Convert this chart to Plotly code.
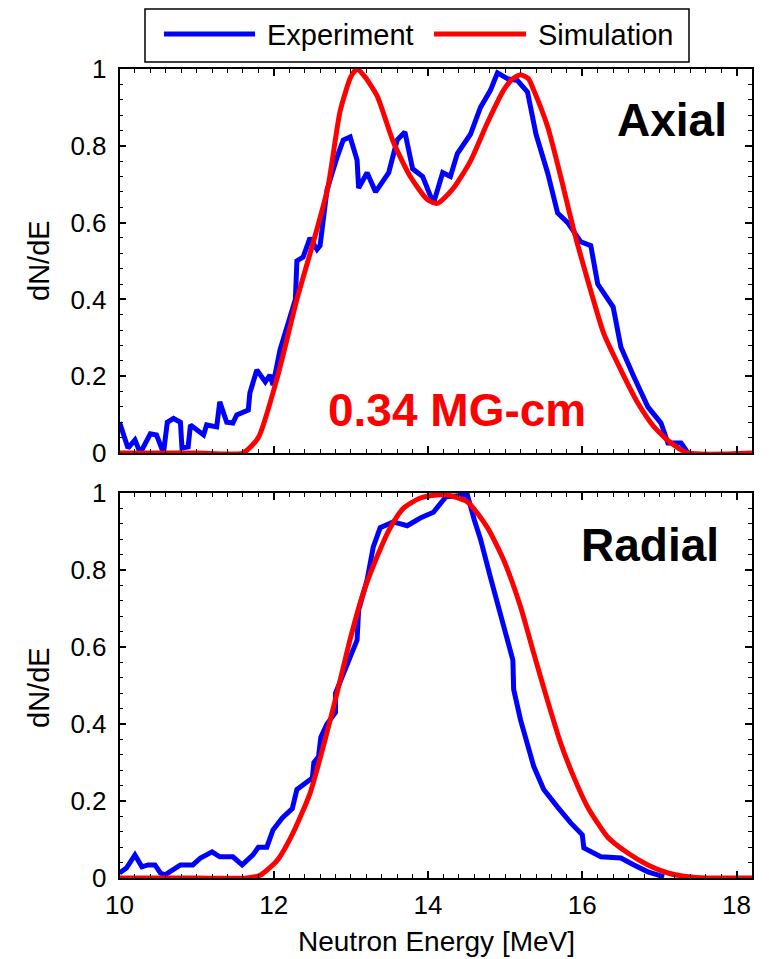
import plotly.graph_objects as go

# ---- data ----
axial_exp_E = [10.0, 10.11, 10.2, 10.27, 10.4, 10.48, 10.57, 10.62, 10.7, 10.79, 10.81, 10.89, 10.92,
               11.09, 11.13, 11.26, 11.3, 11.39, 11.47, 11.52, 11.67, 11.69, 11.78, 11.89, 11.95, 11.99,
               12.08, 12.17, 12.25, 12.28, 12.3, 12.38, 12.47, 12.56, 12.6, 12.69, 12.82, 12.9, 12.99,
               13.08, 13.1, 13.21, 13.32, 13.49, 13.6, 13.7, 13.8, 13.93, 14.07, 14.19, 14.29, 14.38,
               14.55, 14.68, 14.81, 14.9, 15.03, 15.16, 15.29, 15.4, 15.55, 15.68, 15.81, 15.98, 16.11,
               16.2, 16.4, 16.5, 16.67, 16.85, 17.02, 17.11, 17.28, 17.37]
axial_exp_N = [0.08, 0.013, 0.034, 0.0, 0.05, 0.047, 0.0, 0.08, 0.09, 0.08, 0.013, 0.016, 0.073,
               0.047, 0.073, 0.068, 0.133, 0.08, 0.078, 0.099, 0.112, 0.156, 0.216, 0.185, 0.203, 0.177,
               0.268, 0.328, 0.39, 0.40, 0.50, 0.51, 0.56, 0.53, 0.54, 0.685, 0.77, 0.815, 0.823,
               0.763, 0.69, 0.73, 0.68, 0.73, 0.815, 0.836, 0.74, 0.72, 0.65, 0.73, 0.72, 0.78,
               0.83, 0.90, 0.945, 0.99, 0.975, 0.97, 0.94, 0.83, 0.73, 0.625, 0.60, 0.55, 0.54,
               0.44, 0.38, 0.276, 0.198, 0.12, 0.078, 0.026, 0.026, 0.0]

axial_sim_E = [10.0, 11.0, 11.6, 11.8, 12.05, 12.3, 12.5, 12.7, 12.86, 13.0, 13.08, 13.18, 13.34, 13.55,
               13.77, 13.99, 14.12, 14.33, 14.55, 14.77, 14.98, 15.1, 15.2, 15.3, 15.37, 15.55, 15.72,
               15.89, 16.07, 16.28, 16.5, 16.72, 16.93, 17.15, 17.37, 18.2]
axial_sim_N = [0.0, 0.0, 0.0, 0.04, 0.2, 0.40, 0.54, 0.69, 0.89, 0.98, 1.0, 0.98, 0.93, 0.81,
               0.72, 0.66, 0.65, 0.69, 0.76, 0.86, 0.945, 0.975, 0.985, 0.975, 0.945, 0.85, 0.72,
               0.58, 0.45, 0.31, 0.216, 0.13, 0.068, 0.026, 0.0, 0.0]

radial_exp_E = [10.0, 10.09, 10.2, 10.29, 10.37, 10.46, 10.53, 10.59, 10.79, 10.95, 11.05, 11.2, 11.3,
                11.47, 11.59, 11.73, 11.8, 11.91, 11.99, 12.11, 12.24, 12.3, 12.5, 12.52, 12.58, 12.61,
                12.69, 12.8, 12.8, 12.9, 13.08, 13.1, 13.21, 13.29, 13.38, 13.55, 13.73, 13.9, 14.07,
                14.23, 14.51, 14.6, 14.68, 14.81, 14.94, 15.1, 15.11, 15.2, 15.37, 15.5, 15.68, 15.85,
                16.0, 16.02, 16.24, 16.5, 16.67, 16.85, 17.06]
radial_exp_N = [0.013, 0.026, 0.06, 0.029, 0.034, 0.034, 0.013, 0.008, 0.034, 0.034, 0.052, 0.068, 0.055,
                0.055, 0.034, 0.06, 0.08, 0.08, 0.125, 0.156, 0.18, 0.23, 0.26, 0.30, 0.315, 0.366,
                0.40, 0.43, 0.48, 0.532, 0.618, 0.696, 0.774, 0.86, 0.91, 0.925, 0.915, 0.935, 0.95,
                0.99, 0.995, 0.93, 0.88, 0.78, 0.68, 0.566, 0.49, 0.41, 0.29, 0.23, 0.184, 0.143,
                0.112, 0.078, 0.055, 0.052, 0.034, 0.016, 0.003]

radial_sim_E = [10.0, 11.0, 11.65, 11.83, 12.05, 12.25, 12.47, 12.64, 12.82, 12.99, 13.16, 13.34, 13.51,
                13.68, 13.9, 14.12, 14.25, 14.51, 14.77, 14.98, 15.2, 15.37, 15.55, 15.72, 15.89, 16.07,
                16.33, 16.59, 16.85, 17.11, 17.37, 17.6, 18.2]
radial_sim_N = [0.0, 0.0, 0.0, 0.008, 0.047, 0.117, 0.22, 0.34, 0.48, 0.62, 0.74, 0.835, 0.91,
                0.96, 0.987, 0.995, 0.995, 0.977, 0.91, 0.826, 0.704, 0.584, 0.46, 0.35, 0.262, 0.184,
                0.106, 0.065, 0.034, 0.013, 0.003, 0.0, 0.0]

x_ticks = [10, 12, 14, 16, 18]
y_ticks = [0, 0.2, 0.4, 0.6, 0.8, 1]
y_tick_text = ["0", "0.2", "0.4", "0.6", "0.8", "1"]

BLUE = "#0000ff"
RED = "#ff0000"
FONT = "Liberation Sans, Arial, sans-serif"
W, H = 769, 959
OFF = 8  # page body margin


def px_x(p):
    return (p - OFF) / W


def px_y(p):
    return 1 - (p - OFF) / H


fig = go.Figure()
fig.add_trace(go.Scatter(x=axial_exp_E, y=axial_exp_N, mode="lines", line=dict(color=BLUE, width=5),
                         xaxis="x", yaxis="y", name="Experiment"))
fig.add_trace(go.Scatter(x=axial_sim_E, y=axial_sim_N, mode="lines", line=dict(color=RED, width=5, shape="spline", smoothing=0.6),
                         xaxis="x", yaxis="y", name="Simulation"))
fig.add_trace(go.Scatter(x=radial_exp_E, y=radial_exp_N, mode="lines", line=dict(color=BLUE, width=5),
                         xaxis="x2", yaxis="y2", name="Experiment"))
fig.add_trace(go.Scatter(x=radial_sim_E, y=radial_sim_N, mode="lines", line=dict(color=RED, width=5, shape="spline", smoothing=0.6),
                         xaxis="x2", yaxis="y2", name="Simulation"))

xdom = [px_x(119.5), px_x(752)]
common_x = dict(range=[10, 18.2], tickvals=x_ticks, ticks="inside", ticklen=7, tickwidth=1.5,
                tickcolor="black", showline=True, linecolor="black", linewidth=1.5, mirror="ticks",
                showgrid=False, zeroline=False, domain=xdom, automargin=False,
                minor=dict(dtick=0.2, ticks="inside", ticklen=4, tickcolor="black", tickwidth=1, showgrid=False),
                tickfont=dict(family=FONT, size=26, color="black"))
common_y = dict(range=[0, 1], tickvals=y_ticks, ticktext=y_tick_text, ticks="inside", ticklen=7,
                tickwidth=1.5, tickcolor="black", showline=True, linecolor="black", linewidth=1.5,
                mirror="ticks", showgrid=False, zeroline=False, ticklabelstandoff=6, automargin=False,
                minor=dict(dtick=0.04, ticks="inside", ticklen=4, tickcolor="black", tickwidth=1, showgrid=False),
                tickfont=dict(family=FONT, size=26, color="black"))

fig.update_layout(
    width=W, height=H,
    margin=dict(l=0, r=0, t=0, b=0, pad=0),
    paper_bgcolor="white", plot_bgcolor="white",
    showlegend=False,
    xaxis=dict(common_x, anchor="y", showticklabels=False),
    yaxis=dict(common_y, anchor="x", domain=[px_y(453), px_y(69)]),
    xaxis2=dict(common_x, anchor="y2", ticklabelstandoff=3),
    yaxis2=dict(common_y, anchor="x2", domain=[px_y(878), px_y(493)]),
)

ann_font = dict(family=FONT, size=29, color="black")
annotations = [
    dict(text="dN/dE", x=px_x(39), y=px_y(261), xref="paper", yref="paper", textangle=-90,
         xanchor="center", yanchor="middle", showarrow=False, font=ann_font),
    dict(text="dN/dE", x=px_x(39), y=px_y(688), xref="paper", yref="paper", textangle=-90,
         xanchor="center", yanchor="middle", showarrow=False, font=ann_font),
    dict(text="Neutron Energy [MeV]", x=px_x(436), y=px_y(941), xref="paper", yref="paper",
         xanchor="center", yanchor="middle", showarrow=False, font=dict(family=FONT, size=28, color="black")),
    dict(text="<b>Axial</b>", x=17.9, y=0.867, xref="x", yref="y", xanchor="right", yanchor="middle",
         showarrow=False, font=dict(family=FONT, size=46, color="black")),
    dict(text="<b>Radial</b>", x=17.8, y=0.865, xref="x2", yref="y2", xanchor="right", yanchor="middle",
         showarrow=False, font=dict(family=FONT, size=46, color="black")),
    dict(text="<b>0.34 MG-cm</b>", x=14.38, y=0.112, xref="x", yref="y", xanchor="center",
         yanchor="middle", showarrow=False, font=dict(family=FONT, size=46, color=RED)),
    # legend text
    dict(text="Experiment", x=px_x(265), y=px_y(35), xref="paper", yref="paper", xanchor="left",
         yanchor="middle", showarrow=False, font=ann_font),
    dict(text="Simulation", x=px_x(536), y=px_y(35), xref="paper", yref="paper", xanchor="left",
         yanchor="middle", showarrow=False, font=ann_font),
]
fig.update_layout(annotations=annotations)

shapes = [
    dict(type="rect", xref="paper", yref="paper", x0=px_x(145), x1=px_x(689), y0=px_y(62), y1=px_y(9),
         line=dict(color="black", width=1.5), fillcolor="white", layer="below"),
    dict(type="line", xref="paper", yref="paper", x0=px_x(164), x1=px_x(255), y0=px_y(34), y1=px_y(34),
         line=dict(color=BLUE, width=5)),
    dict(type="line", xref="paper", yref="paper", x0=px_x(434), x1=px_x(526), y0=px_y(34), y1=px_y(34),
         line=dict(color=RED, width=5)),
]
fig.update_layout(shapes=shapes)

fig.write_html("out.html")
